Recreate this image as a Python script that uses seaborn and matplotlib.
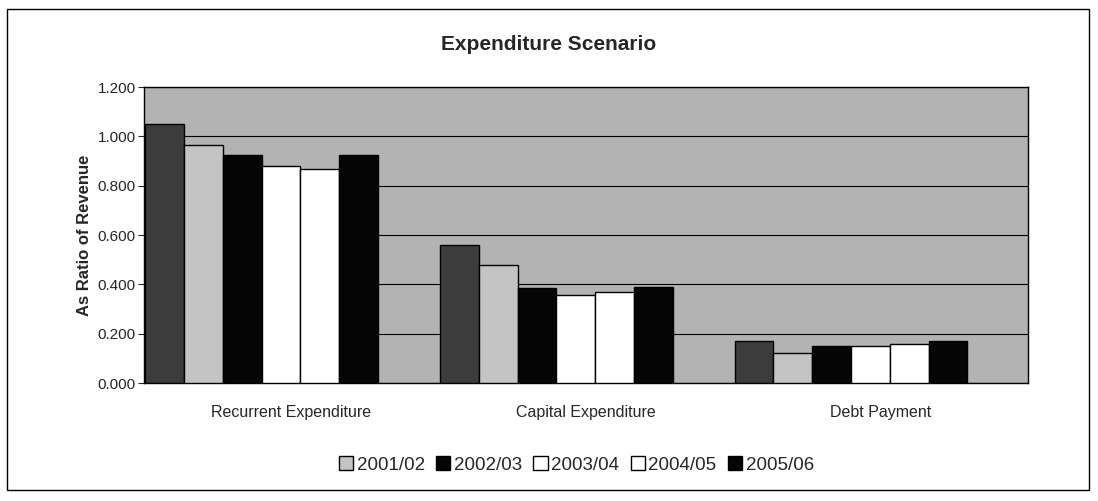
"""
Expenditure Scenario
"""

import matplotlib.pyplot as plt
import matplotlib.patches as mpatches
import pandas as pd
import seaborn as sns

categories = ["Recurrent Expenditure", "Capital Expenditure", "Debt Payment"]
years = ["2000/01", "2001/02", "2002/03", "2003/04", "2004/05", "2005/06"]

# ratio of revenue, one list per year
v_2000 = [1.05, 0.56, 0.17]
v_2001 = [0.965, 0.48, 0.12]
v_2002 = [0.925, 0.385, 0.15]
v_2003 = [0.88, 0.355, 0.15]
v_2004 = [0.87, 0.37, 0.16]
v_2005 = [0.925, 0.39, 0.17]

colors = ["#3c3c3c", "#c4c4c4", "#050505", "#ffffff", "#ffffff", "#050505"]

sns.set_style("white")
plt.rcParams["font.family"] = ["Liberation Sans", "DejaVu Sans"]

rows = []
for year, vals in zip(years, [v_2000, v_2001, v_2002, v_2003, v_2004, v_2005]):
    for cat, v in zip(categories, vals):
        rows.append({"category": cat, "year": year, "ratio": v})
df = pd.DataFrame(rows)

fig = plt.figure(figsize=(10.98, 5.01), dpi=100)
ax = fig.add_axes([0.131, 0.2355, 0.805, 0.5905])
ax.set_facecolor("#b3b3b3")

sns.barplot(data=df, x="category", y="ratio", hue="year", palette=colors,
            hue_order=years, order=categories, width=0.79, ax=ax,
            edgecolor="black", linewidth=1.0, legend=False, zorder=3)

# bars sit a little left of their labels in the original
ax.set_xlim(-0.4, 2.6)
ax.set_xticks([0.1, 1.1, 2.1])
ax.set_xticklabels(categories)

ax.set_ylim(0, 1.2)
ax.set_yticks([0, 0.2, 0.4, 0.6, 0.8, 1.0, 1.2])
ax.set_yticklabels([f"{t:.3f}" for t in ax.get_yticks()], fontsize=11)
ax.yaxis.grid(True, color="black", linewidth=0.8, zorder=1)
ax.set_axisbelow(True)
ax.tick_params(axis="y", left=True, length=4, width=0.8, pad=2)
ax.tick_params(axis="x", labelsize=11.5, pad=12)
for s in ax.spines.values():
    s.set_color("black")
    s.set_linewidth(1.0)

ax.set_xlabel("")
ax.set_ylabel("As Ratio of Revenue", fontsize=12, fontweight="bold")
fig.suptitle("Expenditure Scenario", fontsize=15, fontweight="bold", y=0.93)

# legend shows the last five years only, as in the original
handles = [mpatches.Patch(facecolor=c, edgecolor="black", label=y)
           for y, c in zip(years[1:], colors[1:])]
fig.legend(handles=handles, loc="center", bbox_to_anchor=(0.525, 0.072),
           ncol=5, frameon=False, fontsize=13.5, handlelength=0.75,
           handleheight=0.75, handletextpad=0.2, columnspacing=0.6)

fig.patches.append(mpatches.Rectangle((0.006, 0.022), 0.986, 0.96,
                                      transform=fig.transFigure, fill=False,
                                      edgecolor="black", linewidth=1.0))

fig.savefig("out.png", dpi=100)
